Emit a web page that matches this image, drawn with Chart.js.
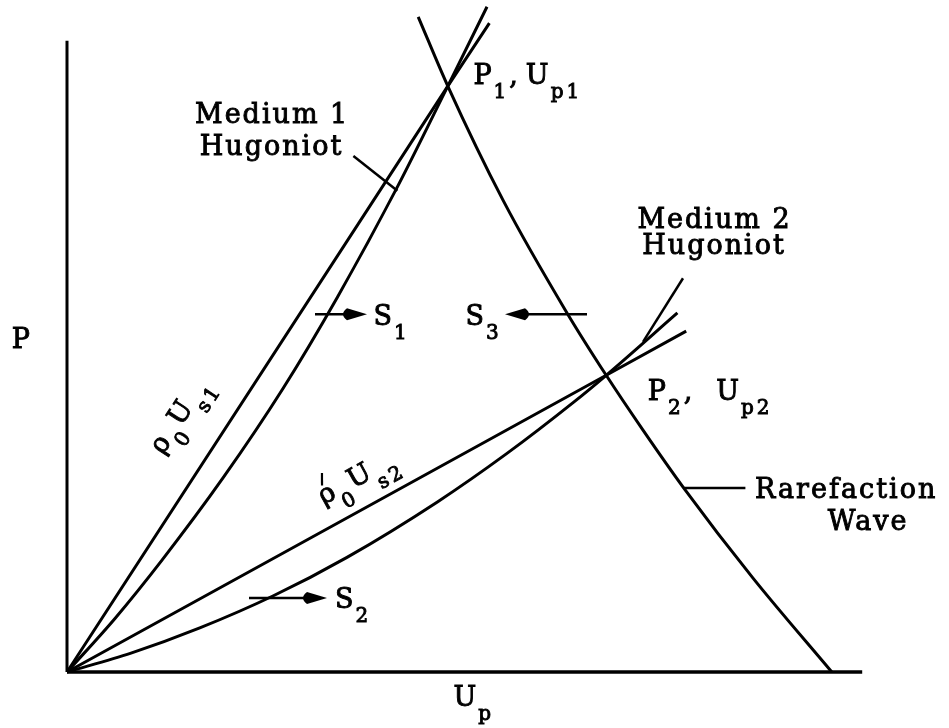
<!DOCTYPE html>
<html>
<head>
<meta charset="utf-8">
<script src="https://cdn.jsdelivr.net/npm/chart.js@4.4.0/dist/chart.umd.min.js"></script>
<style>
  html, body { margin: 0; padding: 0; background: #fff; }
  canvas { display: block; }
</style>
</head>
<body>
<canvas id="hugoniotChart" width="949" height="728"></canvas>
<script>
// Up (particle velocity) and P (pressure), arbitrary units
const axisU = [0, 9.94];
const axisP = [0, 10.02];

// Medium 1 Hugoniot
const hugoniot1U = [0, 0.6, 1.19, 1.95, 2.7, 3.38, 4.13, 4.76, 5.25];
const hugoniot1P = [0, 0.85, 1.78, 3.08, 4.50, 5.95, 7.70, 9.30, 10.56];

// Rayleigh line rho0*Us1 through P1
const rayleigh1U = [0, 4.76, 5.28];
const rayleigh1P = [0, 9.30, 10.30];

// Medium 2 Hugoniot
const hugoniot2U = [0, 0.8, 1.66, 2.58, 3.5, 4.63, 5.5, 6.33, 6.74, 7.63];
const hugoniot2P = [0, 0.30, 0.70, 1.21, 1.82, 2.70, 3.47, 4.28, 4.71, 5.70];

// Rayleigh line rho0'*Us2 through P2
const rayleigh2U = [0, 6.74, 7.74];
const rayleigh2P = [0, 4.71, 5.41];

// rarefaction wave from P1 down through P2 to the axis
const rarefactionU = [4.39, 4.76, 5.45, 6.25, 6.74, 7.20, 7.71, 8.575, 9.56];
const rarefactionP = [10.40, 9.30, 7.49, 5.70, 4.71, 3.84, 2.92, 1.49, 0];

// leader lines from the captions to their curves
const leaders = [
  { u: [3.58, 4.13], p: [8.19, 7.64] },
  { u: [7.70, 7.20], p: [6.25, 5.24] },
  { u: [7.71, 8.48], p: [2.92, 2.92] }
];

// shock direction arrows: S1, S3, S2
const arrows = [
  { from: 3.10, to: 3.75, p: 5.68 },
  { from: 6.50, to: 5.475, p: 5.68 },
  { from: 2.275, to: 3.25, p: 1.175 }
];

const MAIN_FONT = '27px "DejaVu Serif"';
const SUB_FONT = '20px "DejaVu Serif"';
const SUB_DROP = 14;

// captions; parts are [text, kind]; kind 'sub' is lowered and smaller
const labels = [
  { u: 1.60, p: 8.71, parts: [['Medium 1']] },
  { u: 1.66, p: 8.21, parts: [['Hugoniot']] },
  { u: 7.13, p: 7.05, parts: [['Medium 2']] },
  { u: 7.19, p: 6.64, parts: [['Hugoniot']] },
  { u: 8.60, p: 2.76, parts: [['Rarefaction']] },
  { u: 9.51, p: 2.25, parts: [['Wave']] },
  { u: -0.69, p: 5.14, parts: [['P']] },
  { u: 4.83, p: -0.54, parts: [['U'], ['p', 'sub']] },
  { u: 5.08, p: 9.33, parts: [['P'], ['1', 'sub'], [',', 'gap'], ['U'], ['p1', 'sub']] },
  { u: 7.26, p: 4.32, parts: [['P'], ['2', 'sub'], [',', 'wide'], ['U'], ['p2', 'sub']] },
  { u: 3.83, p: 5.51, parts: [['S'], ['1', 'sub']] },
  { u: 4.98, p: 5.51, parts: [['S'], ['3', 'sub']] },
  { u: 3.35, p: 1.02, parts: [['S'], ['2', 'sub']] },
  { u: 1.20, p: 3.44, along: [rayleigh1U[2], rayleigh1P[2]],
    parts: [['ρ'], ['0', 'sub'], ['U'], ['s1', 'sub']] },
  { u: 3.21, p: 2.65, along: [rayleigh2U[2], rayleigh2P[2]],
    parts: [['ρ'], ['', 'prime'], ['0', 'sub'], ['U'], ['s2', 'sub']] }
];

const toPoints = (us, ps) => us.map((u, i) => ({ x: u, y: ps[i] }));

function curve(us, ps, smooth, width) {
  return {
    data: toPoints(us, ps),
    borderColor: '#000',
    borderWidth: width || 3,
    borderJoinStyle: 'round',
    pointRadius: 0,
    pointHoverRadius: 0,
    fill: false,
    clip: false,
    cubicInterpolationMode: smooth ? 'monotone' : 'default',
    tension: 0,
    capBezierPoints: false
  };
}

// text is filled and lightly stroked to get the heavy typewriter look
function put(ctx, t, x, y) {
  ctx.fillText(t, x, y);
  ctx.strokeText(t, x, y);
}

function drawRich(ctx, x, y, parts, angle) {
  ctx.save();
  ctx.translate(x, y);
  ctx.rotate(angle);
  ctx.lineWidth = 0.9;
  let cx = 0;
  parts.forEach(([t, kind]) => {
    if (kind === 'prime') {
      ctx.lineWidth = 2.2;
      ctx.beginPath();
      ctx.moveTo(cx - 10, -18);
      ctx.lineTo(cx - 4, -29);
      ctx.stroke();
      ctx.lineWidth = 0.9;
      return;
    }
    const sub = kind === 'sub';
    ctx.font = sub ? SUB_FONT : MAIN_FONT;
    ctx.letterSpacing = sub ? '3px' : '2px';
    put(ctx, t, cx, sub ? SUB_DROP : 0);
    cx += ctx.measureText(t).width;
    if (kind === 'gap') cx += 6;
    if (kind === 'wide') cx += 22;
  });
  ctx.restore();
}

// shaft plus a solid wedge head with a rounded back
function drawArrow(ctx, x0, x1, yy) {
  const d = Math.sign(x1 - x0);
  ctx.lineWidth = 2.5;
  ctx.beginPath();
  ctx.moveTo(x0, yy);
  ctx.lineTo(x1 - d * 18, yy);
  ctx.stroke();
  ctx.beginPath();
  ctx.moveTo(x1, yy);
  ctx.lineTo(x1 - d * 20, yy - 6);
  ctx.quadraticCurveTo(x1 - d * 28, yy, x1 - d * 20, yy + 6);
  ctx.closePath();
  ctx.fill();
}

const annotate = {
  id: 'annotate',
  afterDatasetsDraw(chart) {
    const { ctx, scales: { x, y } } = chart;
    const px = u => x.getPixelForValue(u);
    const py = p => y.getPixelForValue(p);
    ctx.save();
    ctx.fillStyle = '#000';
    ctx.strokeStyle = '#000';
    ctx.textBaseline = 'alphabetic';
    ctx.textAlign = 'left';
    labels.forEach(l => {
      let angle = 0;
      if (l.along) {
        angle = Math.atan2(py(l.along[1]) - py(0), px(l.along[0]) - px(0));
      }
      drawRich(ctx, px(l.u), py(l.p), l.parts, angle);
    });
    arrows.forEach(a => drawArrow(ctx, px(a.from), px(a.to), py(a.p)));
    ctx.restore();
  }
};

new Chart(document.getElementById('hugoniotChart'), {
  type: 'line',
  data: {
    datasets: [
      curve([0, axisU[1]], [0, 0], false, 3.5),
      curve([0, 0], [0, axisP[1]], false, 3),
      curve(hugoniot1U, hugoniot1P, true),
      curve(rayleigh1U, rayleigh1P, false),
      curve(hugoniot2U, hugoniot2P, true),
      curve(rayleigh2U, rayleigh2P, false),
      curve(rarefactionU, rarefactionP, true),
      ...leaders.map(l => curve(l.u, l.p, false, 2.5))
    ]
  },
  options: {
    responsive: false,
    animation: false,
    events: [],
    layout: { padding: { left: 67, right: 82, top: 42, bottom: 56 } },
    scales: {
      x: { type: 'linear', min: 0, max: 10, display: false },
      y: { type: 'linear', min: 0, max: 10, display: false }
    },
    plugins: {
      legend: { display: false },
      tooltip: { enabled: false }
    }
  },
  plugins: [annotate]
});
</script>
</body>
</html>
